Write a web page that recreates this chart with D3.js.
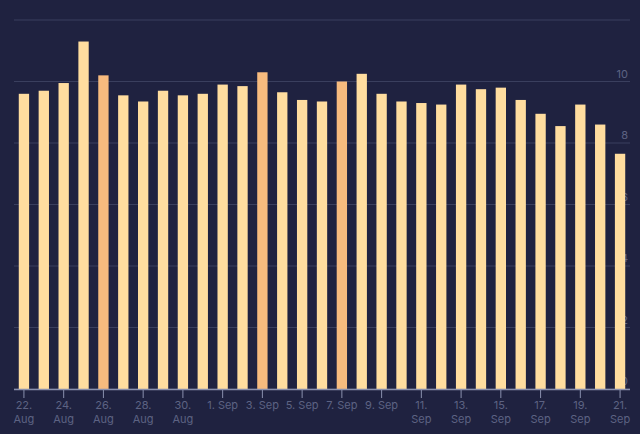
<!DOCTYPE html><html><head><script src="https://cdn.jsdelivr.net/npm/d3@7"></script>
<style>body{margin:0;background:#1f2240}</style></head><body><svg id="c" width="640" height="434"></svg><script>
const dates=["22. Aug","23. Aug","24. Aug","25. Aug","26. Aug","27. Aug","28. Aug","29. Aug","30. Aug","31. Aug","1. Sep","2. Sep","3. Sep","4. Sep","5. Sep","6. Sep","7. Sep","8. Sep","9. Sep","10. Sep","11. Sep","12. Sep","13. Sep","14. Sep","15. Sep","16. Sep","17. Sep","18. Sep","19. Sep","20. Sep","21. Sep"];
const values=[9.6,9.7,9.95,11.3,10.2,9.55,9.35,9.7,9.55,9.6,9.9,9.85,10.3,9.65,9.4,9.35,10.0,10.25,9.6,9.35,9.3,9.25,9.9,9.75,9.8,9.4,8.95,8.55,9.25,8.6,7.65];
const highlighted=["26. Aug","3. Sep","7. Sep"];
const yTicks=[0,2,4,6,8,10];
const svg=d3.select("#c");
const x=d3.scaleBand().domain(dates).range([14,630]).paddingInner(0.48).paddingOuter(0.24);
const y=d3.scaleLinear().domain([0,12]).range([389,20]);
svg.append("rect").attr("width",640).attr("height",434).attr("fill","#1f2240");
svg.selectAll(".g").data([0,2,4,6,8,10,12]).join("line").attr("x1",14).attr("x2",630).attr("y1",d=>y(d)).attr("y2",d=>y(d)).attr("stroke","#3a3f5e").attr("stroke-width",1);
svg.selectAll(".yt").data(yTicks).join("text").attr("x",628).attr("y",d=>y(d)-4).attr("text-anchor","end").attr("fill","#5d6383").attr("font-family","Inter, sans-serif").attr("font-size",11).text(d=>d);
svg.selectAll(".b").data(values).join("rect").attr("x",(d,i)=>x(dates[i])).attr("width",x.bandwidth()).attr("y",d=>y(d)).attr("height",d=>y(0)-y(d)).attr("fill",(d,i)=>highlighted.includes(dates[i])?"#f7bb7e":"#ffdd9f");
svg.append("line").attr("x1",14).attr("x2",630).attr("y1",389.5).attr("y2",389.5).attr("stroke","#8a90ad").attr("stroke-width",1.5);
const tickDates=dates.filter((d,i)=>i%2===0);
tickDates.forEach(d=>{
 const cx=x(d)+x.bandwidth()/2;
 svg.append("line").attr("x1",cx).attr("x2",cx).attr("y1",389).attr("y2",398).attr("stroke","#8a90ad");
 const [day,mon]=d.split(" ");
 const t=svg.append("text").attr("x",cx).attr("text-anchor","middle").attr("fill","#5d6383").attr("font-family","Inter, sans-serif").attr("font-size",11);
 if(mon==="Sep" && (day.length<=2)){t.attr("y",409).text(d);}
 else{t.append("tspan").attr("x",cx).attr("y",409).text(day);t.append("tspan").attr("x",cx).attr("y",423).text(mon);}
});
</script></body></html>
